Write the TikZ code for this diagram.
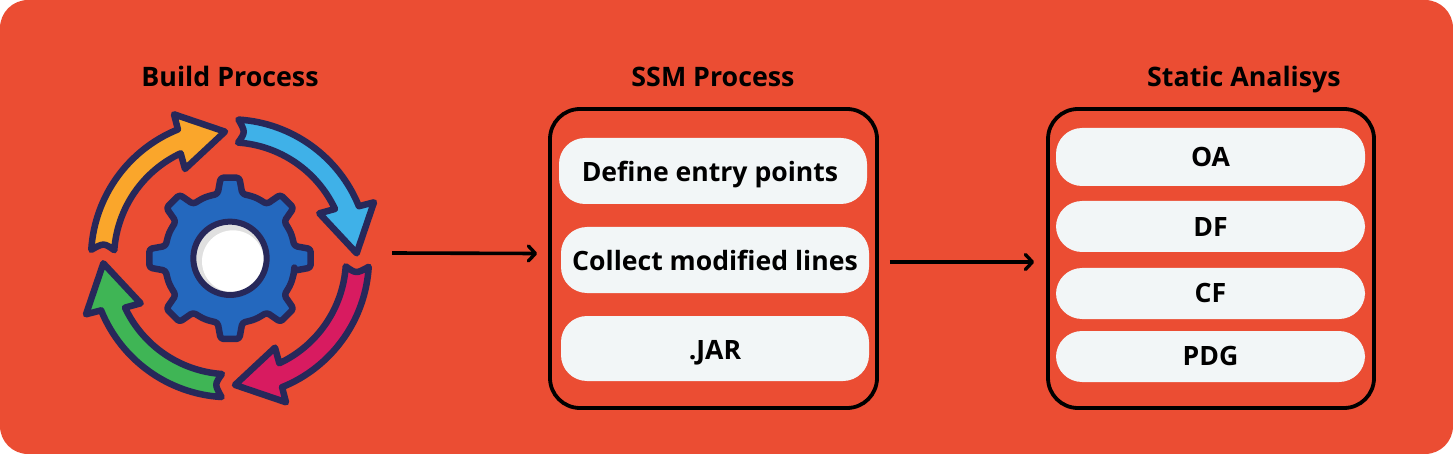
\documentclass[tikz,border=0pt]{standalone}
\usepackage{fontspec}
\setmainfont{Open Sans}[BoldFont={* Bold}]
\usetikzlibrary{arrows.meta}
\definecolor{bgred}{HTML}{EB4D33}
\definecolor{pillc}{HTML}{F2F6F7}
\definecolor{inkb}{HTML}{27285A}
\definecolor{aorange}{HTML}{FAA62B}
\definecolor{ablue}{HTML}{3FB1E8}
\definecolor{apink}{HTML}{D81B60}
\definecolor{agreen}{HTML}{3FB555}
\definecolor{gearb}{HTML}{2468BE}
\definecolor{holeg}{HTML}{E0E0E0}
\tikzset{
  x=1pt,y=1pt,
  titlet/.style={font=\fontsize{26.8}{30}\selectfont\bfseries,text=black,inner sep=0pt,anchor=base},
  groupbox/.style={draw=black,line width=3.8pt,rounded corners=30pt,inner sep=0pt},
  pill/.style={fill=pillc,rounded corners=26pt,inner sep=0pt,text=black,font=\fontsize{26.6}{32}\selectfont\bfseries,text height=27pt,text depth=6pt},
  conn/.style={draw=black,line width=3.6pt,-{Straight Barb[length=7pt,width=15pt,line width=3.4pt,line cap=round,line join=round]}},
  iconline/.style={draw=inkb,line width=6.5pt,line join=round},
}
\newcommand{\cyclearrow}[2]{%
  \begin{scope}[rotate=#1]
    \path[iconline,fill=#2]
      (176.5:417) arc[start angle=176.5,end angle=112,radius=417]
      -- (-168,432) -- (-15,380) -- (-135,268) -- (-148,315)
      arc[start angle={atan2(315,-148)},end angle=176,radius=348]
      .. controls (173:381.5) .. cycle;
  \end{scope}}
\begin{document}
\begin{tikzpicture}
\useasboundingbox (0,0) rectangle (1453,-454);
\fill[white] (0,0) rectangle (1453,-454);
\fill[bgred,rounded corners=28pt] (0,0) rectangle (1453,-454);

\node[titlet] (t1) at (230,-87) {Build Process};
\node[titlet] (t2) at (713,-87) {SSM Process};
\node[titlet] (t3) at (1244,-87) {Static Analisys};

% icon
\node[minimum size=302pt,inner sep=0pt] (icon) at (230,-258) {};
\begin{scope}[shift={(230,-258.3)},x=0.3333pt,y=0.3333pt]
  \cyclearrow{0}{aorange}
  \cyclearrow{-90}{ablue}
  \cyclearrow{180}{apink}
  \cyclearrow{90}{agreen}
  \path[iconline,fill=gearb,rounded corners=3pt]
    ([rotate=0]193,-37) \foreach \a in {0,45,...,315}{
      -- ([rotate=\a]242,-28) -- ([rotate=\a]242,28) -- ([rotate=\a]193,37)
      -- ([rotate=\a+16.7]197,0) -- ([rotate=\a+22.5]198,0) -- ([rotate=\a+28.3]197,0)
      -- ([rotate=\a+45]193,-37)
    } -- cycle;
  \fill[holeg] (0,0) circle[radius=103];
  \fill[white] (9,-9) circle[radius=93];
  \draw[draw=inkb,line width=6pt] (0,0) circle[radius=110];
\end{scope}

% SSM
\node[groupbox,minimum width=327pt,minimum height=299pt] (ssm) at (713.5,-258.5) {};
\node[pill,minimum width=308pt,minimum height=66pt] (p1) at (713,-171) {Define entry points\hspace{6pt}\null};
\node[pill,minimum width=308pt,minimum height=66pt] (p2) at (715,-260) {Collect modified lines};
\node[pill,minimum width=308pt,minimum height=65pt] (p3) at (715,-348.5) {.JAR};

% Static
\node[groupbox,minimum width=326pt,minimum height=299pt] (sta) at (1211,-258.5) {};
\node[pill,minimum width=309pt,minimum height=58pt,text height=25pt] (q1) at (1210.5,-157) {OA};
\node[pill,minimum width=309pt,minimum height=51pt] (q2) at (1210.5,-226.5) {DF};
\node[pill,minimum width=309pt,minimum height=51pt,text height=24pt] (q3) at (1210.5,-293.5) {CF};
\node[pill,minimum width=309pt,minimum height=51pt,text height=24pt] (q4) at (1210.5,-356.5) {PDG};

\draw[conn] ([shift={(11,5)}]icon.east) -- ([shift={(-11,5)}]ssm.west);
\draw[conn] ([shift={(11,-3.5)}]ssm.east) -- ([shift={(-12,-3.5)}]sta.west);
\end{tikzpicture}
\end{document}
